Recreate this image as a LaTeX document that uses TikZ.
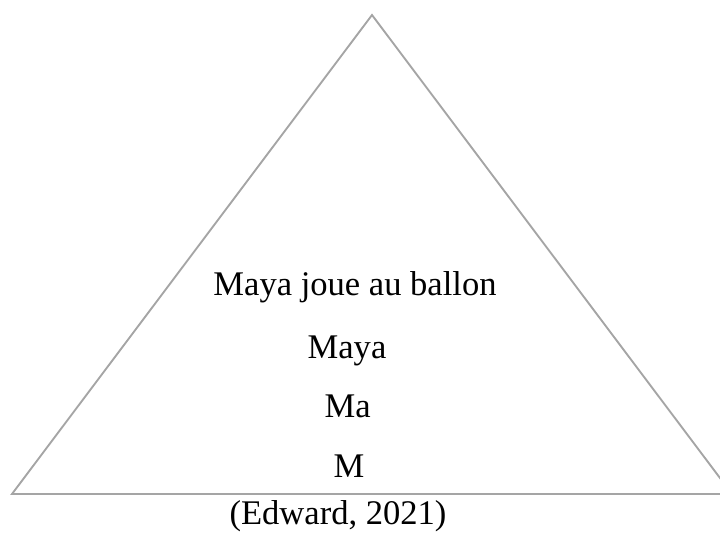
\documentclass[tikz,border=0pt]{standalone}
\usepackage{fontspec}
\setmainfont{Liberation Serif}
\usepackage{xcolor}
\usepackage{tikz}
\definecolor{bordgris}{RGB}{165,165,165}
\tikzset{mot/.style={anchor=base,inner sep=0pt,font=\fontsize{29.5}{34}\selectfont}}

\begin{document}
\begin{tikzpicture}
\clip (0,0) rectangle (21.6,15.96);
% 节点定义
\coordinate (sommet) at (11.16,15.51);
\coordinate (gauche) at (0.36,1.14);
\coordinate (droite) at (21.96,1.14);
\node[mot] (phrase) at (10.65,7.08) {Maya joue au ballon};
\node[mot] (mot) at (10.41,5.22) {Maya};
\node[mot] (syll) at (10.43,3.45) {Ma};
\node[mot] (lettre) at (10.47,1.65) {M};
\node[mot] (source) at (10.14,0.24) {(Edward, 2021)};
% 连线
\draw[bordgris,line width=1.6pt,line join=miter] (sommet)--(droite)--(gauche)--cycle;
\end{tikzpicture}
\end{document}
